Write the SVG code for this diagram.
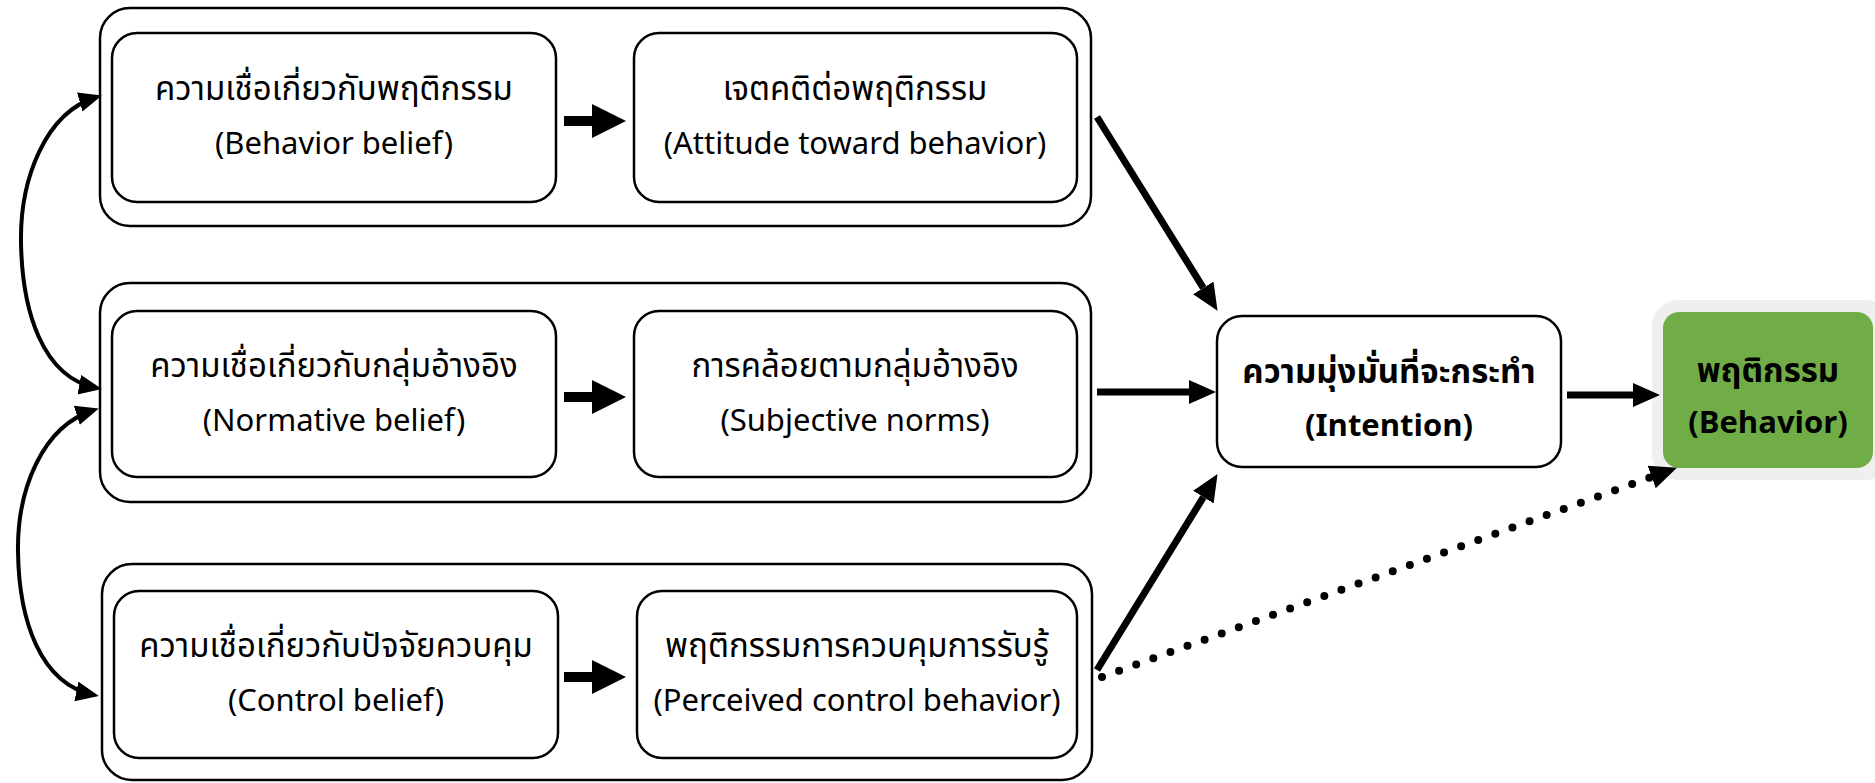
<svg xmlns="http://www.w3.org/2000/svg" width="1875" height="783" viewBox="0 0 1875 783">
<defs>
<style>
.outer{fill:none;stroke:#000;stroke-width:2.5}
.inner{fill:#fff;stroke:#000;stroke-width:2.5}
.t{font-family:'Noto Sans Thai','Noto Sans',sans-serif;font-size:31px;fill:#000;text-anchor:middle}
.th{font-size:33px}
.b{font-weight:bold}
.thin{fill:none;stroke:#000;stroke-width:4}
.thick{fill:none;stroke:#000;stroke-width:7}
.dots{fill:none;stroke:#000;stroke-width:8;stroke-linecap:round;stroke-dasharray:0 18.2}
</style>
<marker id="ah" markerUnits="userSpaceOnUse" markerWidth="24" markerHeight="22" refX="18" refY="10" orient="auto-start-reverse"><path d="M0,0 L23,10 L0,20 Z" fill="#000"/></marker>
<marker id="bh" markerUnits="userSpaceOnUse" markerWidth="28" markerHeight="26" refX="0" refY="12" orient="auto"><path d="M0,0 L27,12 L0,24 Z" fill="#000"/></marker>
<path id="blk" d="M0,-5 H28 V-17 L62,0 L28,17 V5 H0 Z" fill="#000"/>
</defs>

<g id="group-attitude">
<rect class="outer" x="100" y="8" width="991" height="218" rx="30"/>
</g>
<g id="group-norms">
<rect class="outer" x="100" y="283" width="991" height="219" rx="30"/>
</g>
<g id="group-control">
<rect class="outer" x="102" y="564" width="990" height="216" rx="30"/>
</g>

<g id="behavior-belief">
<rect class="inner" x="112" y="33" width="444" height="169" rx="25"/>
<text class="t th" x="334" y="100">ความเชื่อเกี่ยวกับพฤติกรรม</text>
<text class="t" x="334" y="154">(Behavior belief)</text>
</g>
<g id="attitude">
<rect class="inner" x="634" y="33" width="443" height="169" rx="25"/>
<text class="t th" x="855" y="100">เจตคติต่อพฤติกรรม</text>
<text class="t" x="855" y="154">(Attitude toward behavior)</text>
</g>
<g id="normative-belief">
<rect class="inner" x="112" y="311" width="444" height="166" rx="25"/>
<text class="t th" x="334" y="377">ความเชื่อเกี่ยวกับกลุ่มอ้างอิง</text>
<text class="t" x="334" y="431">(Normative belief)</text>
</g>
<g id="subjective-norms">
<rect class="inner" x="634" y="311" width="443" height="166" rx="25"/>
<text class="t th" x="855" y="377">การคล้อยตามกลุ่มอ้างอิง</text>
<text class="t" x="855" y="431">(Subjective norms)</text>
</g>
<g id="control-belief">
<rect class="inner" x="114" y="591" width="444" height="167" rx="25"/>
<text class="t th" x="336" y="657">ความเชื่อเกี่ยวกับปัจจัยควบคุม</text>
<text class="t" x="336" y="711">(Control belief)</text>
</g>
<g id="perceived-control">
<rect class="inner" x="637" y="591" width="440" height="167" rx="25"/>
<text class="t th" x="857" y="657">พฤติกรรมการควบคุมการรับรู้</text>
<text class="t" x="857" y="711">(Perceived control behavior)</text>
</g>
<g id="intention">
<rect class="inner" x="1217" y="316" width="344" height="151" rx="25"/>
<text class="t th b" x="1389" y="383">ความมุ่งมั่นที่จะกระทำ</text>
<text class="t b" x="1389" y="436">(Intention)</text>
</g>
<g id="behavior">
<rect x="1652" y="300" width="240" height="180" rx="26" fill="#efefef"/>
<rect x="1663" y="312" width="210" height="156" rx="16" fill="#70ad47"/>
<text class="t th b" x="1768" y="382">พฤติกรรม</text>
<text class="t b" x="1768" y="433">(Behavior)</text>
</g>

<g id="connectors">
<path class="thin" d="M97,97 C45,112 20,180 21,242 C22,310 42,378 97,388" marker-start="url(#ah)" marker-end="url(#ah)"/>
<path class="thin" d="M94,410 C42,426 17,490 18,552 C19,620 40,684 94,695" marker-start="url(#ah)" marker-end="url(#ah)"/>
<use href="#blk" x="564" y="121"/>
<use href="#blk" x="564" y="397"/>
<use href="#blk" x="564" y="677"/>
<path class="thick" d="M1097,117 L1203.3,287.9" marker-end="url(#bh)"/>
<path class="thick" d="M1097,392 L1189,392" marker-end="url(#bh)"/>
<path class="thick" d="M1097,670 L1203.4,497.1" marker-end="url(#bh)"/>
<path class="thick" d="M1567,395 L1633,395" marker-end="url(#bh)"/>
<path class="dots" d="M1102,677 L1651.6,476.9" marker-end="url(#bh)"/>
</g>
</svg>
